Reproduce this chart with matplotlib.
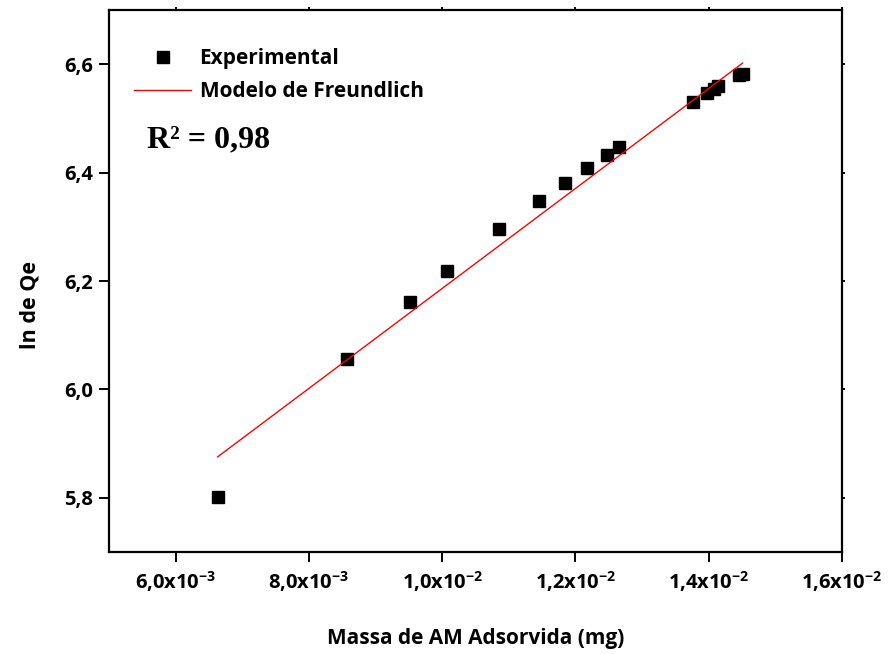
import matplotlib
matplotlib.use("Agg")
import matplotlib.pyplot as plt
from matplotlib.ticker import FixedLocator

# ---- data ----
massa = [6.63e-3, 8.57e-3, 9.51e-3, 1.0065e-2, 1.086e-2, 1.145e-2, 1.1837e-2,
         1.2179e-2, 1.248e-2, 1.2657e-2, 1.3763e-2, 1.3975e-2, 1.4075e-2,
         1.4140e-2, 1.4460e-2, 1.4513e-2]
ln_qe = [5.802, 6.056, 6.162, 6.218, 6.296, 6.348, 6.381, 6.409, 6.433,
         6.448, 6.530, 6.547, 6.554, 6.559, 6.580, 6.582]
fit_x = [6.63e-3, 1.4508e-2]
fit_y = [5.8755, 6.602]
x_ticks = [6.0e-3, 8.0e-3, 1.0e-2, 1.2e-2, 1.4e-2, 1.6e-2]
x_tick_labels = ["6,0x10$^{-3}$", "8,0x10$^{-3}$", "1,0x10$^{-2}$",
                 "1,2x10$^{-2}$", "1,4x10$^{-2}$", "1,6x10$^{-2}$"]
y_ticks = [5.8, 6.0, 6.2, 6.4, 6.6]
y_tick_labels = ["5,8", "6,0", "6,2", "6,4", "6,6"]

FONT = "Open Sans"
plt.rcParams["font.family"] = [FONT, "DejaVu Sans"]
plt.rcParams["font.weight"] = "bold"
plt.rcParams["mathtext.fontset"] = "custom"
plt.rcParams["mathtext.rm"] = FONT + ":bold"
plt.rcParams["mathtext.it"] = FONT + ":bold"
plt.rcParams["mathtext.bf"] = FONT + ":bold"
plt.rcParams["mathtext.default"] = "regular"

fig = plt.figure(figsize=(8.88, 6.54), dpi=100)
ax = fig.add_axes([109 / 888, 1 - 552 / 654, (842 - 109) / 888, (552 - 10) / 654])

ax.plot(massa, ln_qe, linestyle="none", marker="s", markersize=9,
        color="black", label="Experimental")
ax.plot(fit_x, fit_y, color="red", linewidth=1.0, label="Modelo de Freundlich")

ax.set_xlim(5.0e-3, 1.6e-2)
ax.set_ylim(5.7, 6.7)
ax.xaxis.set_major_locator(FixedLocator(x_ticks))
ax.set_xticklabels(x_tick_labels)
ax.yaxis.set_major_locator(FixedLocator(y_ticks))
ax.set_yticklabels(y_tick_labels)

for s in ax.spines.values():
    s.set_linewidth(1.6)

ax.tick_params(axis="both", which="major", direction="out", length=7.5,
               width=1.4, labelsize=14.5)
ax.tick_params(axis="x", pad=5)
ax.tick_params(axis="y", pad=4)
ax.tick_params(top=True, right=True, labeltop=False, labelright=False)
for t in ax.xaxis.get_major_ticks():
    t.tick2line.set_markersize(2)
for t in ax.yaxis.get_major_ticks():
    t.tick2line.set_markersize(2)
for lab in ax.get_xticklabels() + ax.get_yticklabels():
    lab.set_fontweight("bold")

ax.set_xlabel("Massa de AM Adsorvida (mg)", fontsize=15, fontweight="bold", labelpad=24)
ax.set_ylabel("ln de Qe", fontsize=15.5, fontweight="bold")
ax.yaxis.set_label_coords(-0.094, 0.456)

leg = ax.legend(loc="upper left", bbox_to_anchor=(0.034, 0.93), frameon=False,
                handlelength=2.75, handletextpad=0.4,
                labelspacing=0.6, borderaxespad=0.0, borderpad=0.0,
                prop={"family": FONT, "weight": "bold", "size": 15})

ax.text(0.052, 0.760, "R² = 0,98", transform=ax.transAxes,
        fontsize=23, fontweight="bold", family="Liberation Serif", va="center")

fig.savefig("out.png", dpi=100)
